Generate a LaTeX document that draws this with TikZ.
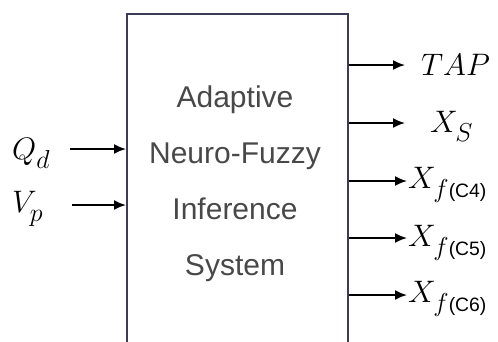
\documentclass[tikz,border=0pt]{standalone}
\usepackage{amsmath}
\usepackage{graphicx}
\usepackage{fontspec}
\setmainfont{Liberation Sans}
\usetikzlibrary{arrows.meta}
\definecolor{boxline}{RGB}{60,60,88}
\definecolor{boxtext}{RGB}{72,72,72}
% subscript set lower than usual
\newcommand{\lowsub}[1]{\raisebox{-4pt}{$\scriptstyle #1$}}
% f(C..) subscript, in a smaller sans
\newcommand{\fsub}[1]{\raisebox{-4pt}{$\scriptstyle f$\fontsize{15.5}{18}\selectfont(C#1)}}
% math label, blown up past the largest math size
\newcommand{\lbl}[1]{\scalebox{1.25}{$#1$}}

\begin{document}
\begin{tikzpicture}[x=1pt,y=-1pt,
        arr/.style={line width=1.8pt,-{Latex[length=12pt,width=10pt]}},
        lab/.style={anchor=base west,inner sep=0pt,font=\fontsize{24.88}{30}\selectfont}]
            % Fix the frame of the picture
            \useasboundingbox (0,0) rectangle (498,341);
            \clip (0,0) rectangle (498,341);

            % Draw the ANFIS block (runs off the bottom)
            \node[draw=boxline,line width=1.8pt,anchor=north west,inner sep=0pt,
                  minimum width=221pt,minimum height=360pt] (anfis) at (126,13) {};
            \node[font=\fontsize{30}{56}\selectfont,text=boxtext,align=center] (name) at (235,184)
                {Adaptive\\Neuro-Fuzzy\\Inference\\System};

            % Define the free ends of the arrows
            \coordinate (i1) at (70,149);
            \coordinate (i2) at (72,205);
            \coordinate (o1) at (405,65);
            \coordinate (o2) at (405,123);
            \coordinate (o3) at (407,181);
            \coordinate (o4) at (407,238);
            \coordinate (o5) at (407,295);

            % Draw inputs
            \node[lab] (qd) at (12,159) {\lbl{Q_{\lowsub{d}}}};
            \node[lab] (vp) at (12,212) {\lbl{V_{\lowsub{p}}}};
            \draw[arr] (i1) -- (i1 -| anfis.west);
            \draw[arr] (i2) -- (i2 -| anfis.west);

            % Draw outputs
            \foreach \o in {o1,o2,o3,o4,o5}
                \draw[arr] (\o -| anfis.east) -- (\o);
            \node[lab] (tap) at (421,75) {\lbl{TAP}};
            \node[lab] (xs) at (430,132) {\lbl{X_{\lowsub{S}}}};
            \node[lab] (xc4) at (408,188) {\lbl{X_{\fsub{4}}}};
            \node[lab] (xc5) at (408,246) {\lbl{X_{\fsub{5}}}};
            \node[lab] (xc6) at (408,302) {\lbl{X_{\fsub{6}}}};

        \end{tikzpicture}
\end{document}
